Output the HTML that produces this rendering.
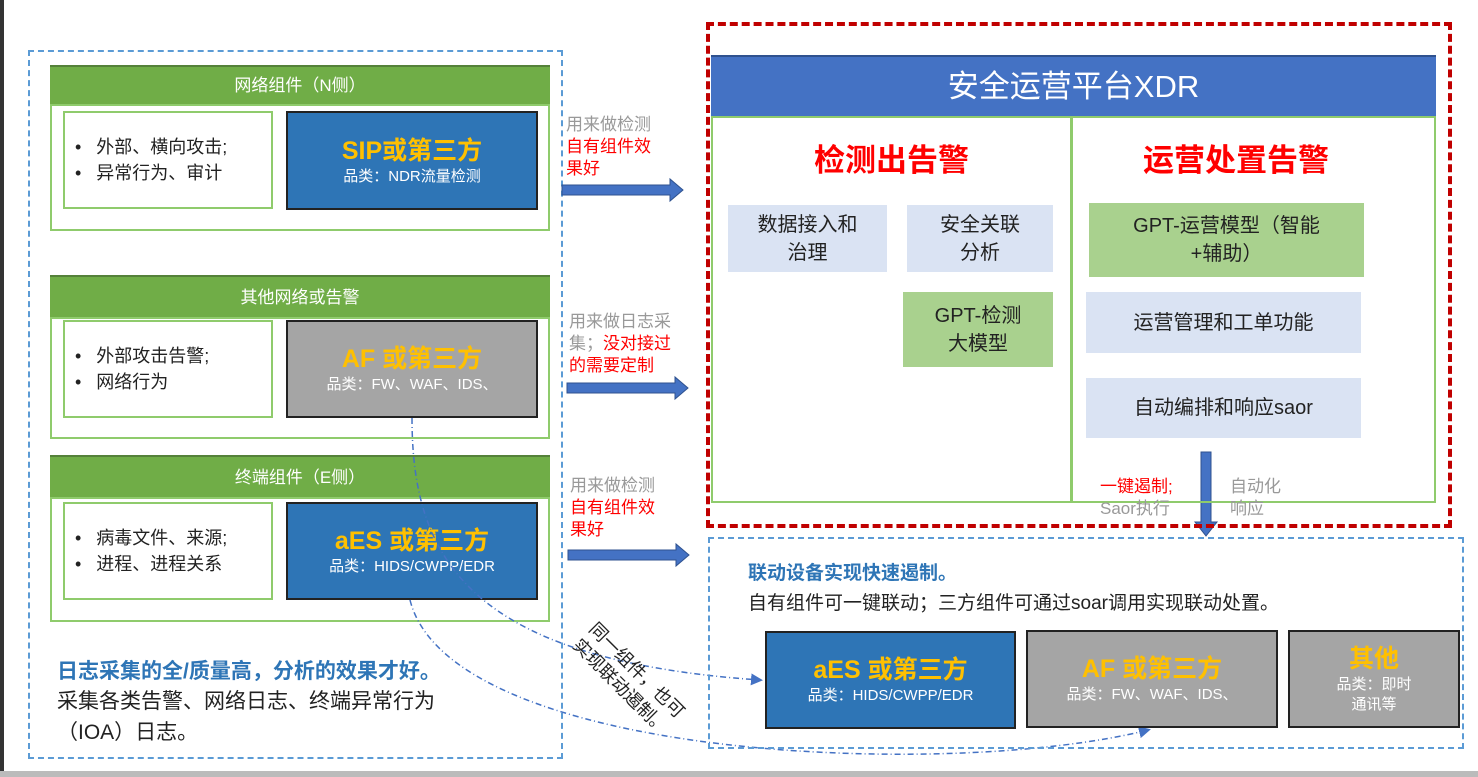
<!DOCTYPE html>
<html><head><meta charset="utf-8"><style>
*{margin:0;padding:0;box-sizing:border-box}
body{width:1478px;height:777px;background:#fff;position:relative;overflow:hidden;font-family:"Liberation Sans","Noto Sans CJK SC",sans-serif}
.a{position:absolute}
.hdr{position:absolute;background:#70ad47;color:#fff;font-size:17px;text-align:center;border-top:2px solid #55813a}
.body{position:absolute;border:2px solid #8fcb6c}
.wb{position:absolute;border:2px solid #8fcb6c;background:#fff;font-size:18px;color:#222;padding-left:10px;display:flex;flex-direction:column;justify-content:center;line-height:26px}
.pb{position:absolute;border:2px solid #222;text-align:center;color:#fff;display:flex;flex-direction:column;justify-content:center}
.blue{background:#2e75b6}.gray{background:#a5a5a5}
.t{color:#ffc000;font-weight:bold;font-size:25px;line-height:32px}
.s{font-size:15px;line-height:20px}
.lb{position:absolute;background:#dae3f3;font-size:20px;color:#222;text-align:center;display:flex;align-items:center;justify-content:center;line-height:28px}
.lg{position:absolute;background:#a9d18e;font-size:20px;color:#222;text-align:center;display:flex;align-items:center;justify-content:center;line-height:28px}
.lab{position:absolute;font-size:17px;line-height:22px;color:#999}
.r{color:#f00}
</style></head><body>
<div class="a" style="left:0;top:0;width:4px;height:777px;background:#333"></div>
<div class="a" style="left:0;top:771px;width:1478px;height:6px;background:#bbb"></div>

<div class="a" style="left:28px;top:50px;width:535px;height:709px;border:2px dashed #5b9bd5"></div>

<div class="hdr" style="left:50px;top:65px;width:500px;height:40px;line-height:38px">网络组件（N侧）</div>
<div class="body" style="left:50px;top:104px;width:500px;height:127px"></div>
<div class="wb" style="left:63px;top:111px;width:210px;height:98px"><div>•&nbsp;&nbsp; 外部、横向攻击;</div><div>•&nbsp;&nbsp; 异常行为、审计</div></div>
<div class="pb blue" style="left:286px;top:111px;width:252px;height:99px"><div class="t">SIP或第三方</div><div class="s">品类：NDR流量检测</div></div>

<div class="hdr" style="left:50px;top:275px;width:500px;height:43px;line-height:41px">其他网络或告警</div>
<div class="body" style="left:50px;top:317px;width:500px;height:122px"></div>
<div class="wb" style="left:63px;top:320px;width:210px;height:98px"><div>•&nbsp;&nbsp; 外部攻击告警;</div><div>•&nbsp;&nbsp; 网络行为</div></div>
<div class="pb gray" style="left:286px;top:320px;width:252px;height:98px"><div class="t">AF 或第三方</div><div class="s">品类：FW、WAF、IDS、</div></div>

<div class="hdr" style="left:50px;top:455px;width:500px;height:43px;line-height:41px">终端组件（E侧）</div>
<div class="body" style="left:50px;top:497px;width:500px;height:125px"></div>
<div class="wb" style="left:63px;top:502px;width:210px;height:98px"><div>•&nbsp;&nbsp; 病毒文件、来源;</div><div>•&nbsp;&nbsp; 进程、进程关系</div></div>
<div class="pb blue" style="left:286px;top:502px;width:252px;height:98px"><div class="t">aES 或第三方</div><div class="s">品类：HIDS/CWPP/EDR</div></div>

<div class="a" style="left:57px;top:655px;font-size:21px;font-weight:bold;color:#2e75b6">日志采集的全/质量高，分析的效果才好。</div>
<div class="a" style="left:57px;top:686px;font-size:21px;color:#222;line-height:31px">采集各类告警、网络日志、终端异常行为<br>（IOA）日志。</div>

<div class="lab" style="left:566px;top:114px">用来做检测<br><span class="r">自有组件效<br>果好</span></div>
<div class="lab" style="left:569px;top:311px">用来做日志采<br>集；<span class="r">没对接过<br>的需要定制</span></div>
<div class="lab" style="left:570px;top:475px">用来做检测<br><span class="r">自有组件效<br>果好</span></div>
<svg class="a" style="left:0;top:0" width="1478" height="777">
<defs><marker id="m" markerWidth="8" markerHeight="8" refX="6" refY="4" orient="auto"><path d="M0,0L8,4L0,8z" fill="#4472c4"/></marker></defs>
<g fill="#4472c4" stroke="#2f528f" stroke-width="1">
<path d="M562,185H670V179L683,190L670,201V195H562z"/>
<path d="M567,383H675V377L688,388L675,399V393H567z"/>
<path d="M568,550H676V544L689,555L676,566V560H568z"/>
<path d="M1201,452H1211V522H1217L1206,536L1195,522H1201z"/>
</g>
<g fill="none" stroke="#4472c4" stroke-width="1.5" stroke-dasharray="6,3,1,3">
<path d="M412,418C412,560 470,660 760,680" marker-end="url(#m)"/>
<path d="M410,600C450,760 950,780 1148,730" marker-end="url(#m)"/>
</g>
</svg>
<div class="a" style="font-size:18px;color:#222;transform:rotate(45deg);transform-origin:0 0;line-height:23px;left:600px;top:618px;white-space:nowrap">同一组件，也可<br>实现联动遏制。</div>

<div class="a" style="left:706px;top:22px;width:746px;height:506px;border:4px dashed #c00000"></div>
<div class="a" style="left:711px;top:55px;width:725px;height:62px;background:#4472c4;border-top:2px solid #2f528f;color:#fff;font-size:31px;text-align:center;line-height:60px">安全运营平台XDR</div>
<div class="a" style="left:711px;top:116px;width:361px;height:387px;border:2px solid #8fcb6c"></div>
<div class="a" style="left:1071px;top:116px;width:365px;height:387px;border:2px solid #8fcb6c"></div>
<div class="a" style="left:711px;top:135px;width:361px;text-align:center;color:#f00;font-weight:bold;font-size:31px">检测出告警</div>
<div class="a" style="left:1071px;top:135px;width:330px;text-align:center;color:#f00;font-weight:bold;font-size:31px">运营处置告警</div>
<div class="lb" style="left:728px;top:205px;width:159px;height:67px">数据接入和<br>治理</div>
<div class="lb" style="left:907px;top:205px;width:146px;height:67px">安全关联<br>分析</div>
<div class="lg" style="left:903px;top:292px;width:150px;height:75px">GPT-检测<br>大模型</div>
<div class="lg" style="left:1089px;top:203px;width:275px;height:74px">GPT-运营模型（智能<br>+辅助）</div>
<div class="lb" style="left:1086px;top:292px;width:275px;height:61px">运营管理和工单功能</div>
<div class="lb" style="left:1086px;top:378px;width:275px;height:60px">自动编排和响应saor</div>
<div class="lab" style="left:1100px;top:476px"><span class="r">一键遏制;</span><br>Saor执行</div>
<div class="lab" style="left:1230px;top:476px">自动化<br>响应</div>

<div class="a" style="left:708px;top:537px;width:756px;height:212px;border:2px dashed #5b9bd5"></div>
<div class="a" style="left:748px;top:558px;font-size:19px;font-weight:bold;color:#2e75b6">联动设备实现快速遏制。</div>
<div class="a" style="left:748px;top:588px;font-size:19px;color:#222">自有组件可一键联动；三方组件可通过soar调用实现联动处置。</div>
<div class="pb blue" style="left:765px;top:631px;width:251px;height:98px"><div class="t">aES 或第三方</div><div class="s">品类：HIDS/CWPP/EDR</div></div>
<div class="pb gray" style="left:1026px;top:630px;width:252px;height:98px"><div class="t">AF 或第三方</div><div class="s">品类：FW、WAF、IDS、</div></div>
<div class="pb gray" style="left:1288px;top:630px;width:172px;height:98px"><div class="t">其他</div><div class="s">品类：即时<br>通讯等</div></div>
</body></html>
